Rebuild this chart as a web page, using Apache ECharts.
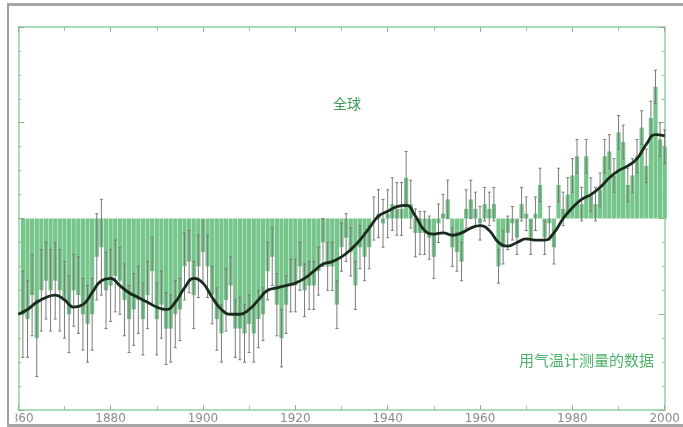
<!DOCTYPE html>
<html>
<head>
<meta charset="utf-8">
<script src="https://cdn.jsdelivr.net/npm/echarts@6/dist/echarts.min.js"></script>
<style>
html,body{margin:0;padding:0;background:#fff;}
#chart{width:683px;height:427px;}
</style>
</head>
<body>
<div id="chart"></div>
<script>
// ---- data ----
const startYear = 1861;
const anomalies = [
  -0.40,-0.42,-0.32,-0.50,-0.30,-0.26,-0.30,-0.26,-0.30,-0.34,
  -0.40,-0.30,-0.32,-0.40,-0.44,-0.40,-0.16,-0.12,-0.30,-0.28,
  -0.24,-0.26,-0.34,-0.42,-0.38,-0.34,-0.42,-0.32,-0.22,-0.42,
  -0.36,-0.46,-0.46,-0.40,-0.38,-0.20,-0.18,-0.32,-0.20,-0.14,
  -0.20,-0.32,-0.42,-0.48,-0.34,-0.28,-0.46,-0.46,-0.48,-0.44,
  -0.48,-0.42,-0.40,-0.22,-0.16,-0.36,-0.50,-0.36,-0.28,-0.28,
  -0.20,-0.30,-0.28,-0.28,-0.22,-0.10,-0.20,-0.20,-0.36,-0.12,
  -0.08,-0.14,-0.28,-0.12,-0.16,-0.12, 0.00, 0.02,-0.02, 0.02,
   0.06, 0.04, 0.04, 0.17, 0.06,-0.06,-0.06,-0.06,-0.08,-0.16,
  -0.02, 0.02, 0.08,-0.12,-0.14,-0.18, 0.04, 0.08, 0.04,-0.02,
   0.06, 0.04, 0.06,-0.20,-0.12,-0.06,-0.02,-0.08, 0.06, 0.02,
  -0.08, 0.02, 0.14,-0.08,-0.02,-0.12, 0.14, 0.04, 0.10, 0.18,
   0.26, 0.06, 0.26, 0.10, 0.06, 0.12, 0.26, 0.28, 0.18, 0.36,
   0.32, 0.14, 0.18, 0.26, 0.38, 0.22, 0.42, 0.55, 0.33, 0.30
];
const errors = [
  0.18,0.16,0.17,0.16,0.17,0.16,0.17,0.16,0.17,0.16,
  0.16,0.15,0.16,0.15,0.16,0.15,0.18,0.20,0.16,0.15,
  0.15,0.14,0.15,0.14,0.15,0.14,0.15,0.14,0.14,0.15,
  0.14,0.15,0.14,0.14,0.13,0.14,0.13,0.14,0.13,0.13,
  0.13,0.12,0.13,0.12,0.13,0.12,0.12,0.13,0.12,0.12,
  0.12,0.12,0.11,0.12,0.12,0.13,0.12,0.12,0.11,0.11,
  0.10,0.11,0.10,0.10,0.10,0.10,0.10,0.10,0.10,0.10,
  0.10,0.10,0.10,0.09,0.10,0.09,0.09,0.10,0.10,0.10,
  0.11,0.11,0.11,0.11,0.10,0.10,0.09,0.09,0.09,0.09,
  0.08,0.08,0.08,0.08,0.08,0.08,0.08,0.08,0.07,0.07,
  0.07,0.07,0.07,0.07,0.07,0.07,0.07,0.07,0.07,0.07,
  0.07,0.07,0.07,0.07,0.07,0.07,0.07,0.07,0.07,0.07,
  0.07,0.07,0.07,0.07,0.07,0.07,0.07,0.07,0.07,0.07,
  0.07,0.07,0.07,0.07,0.07,0.07,0.07,0.07,0.07,0.07
];
const smoothYears = [
  1860,1862,1864,1866,1868,1870,1872,1874,1876,1878,1880,1882,1884,1886,1888,1890,
  1892,1894,1896,1898,1900,1902,1904,1906,1908,1910,1912,1914,1916,1918,1920,1922,
  1924,1926,1928,1930,1932,1934,1936,1938,1940,1942,1944,1946,1948,1950,1952,1954,
  1956,1958,1960,1962,1964,1966,1968,1970,1972,1974,1976,1978,1980,1982,1984,1986,
  1988,1990,1992,1994,1996,1998,2000
];
const smoothValues = [
  -0.40,-0.38,-0.35,-0.33,-0.32,-0.34,-0.37,-0.36,-0.31,-0.26,-0.25,-0.28,-0.31,-0.33,-0.35,-0.37,
  -0.38,-0.35,-0.29,-0.25,-0.27,-0.33,-0.38,-0.40,-0.40,-0.38,-0.34,-0.30,-0.29,-0.28,-0.27,-0.25,
  -0.22,-0.19,-0.18,-0.16,-0.13,-0.09,-0.04, 0.01, 0.03, 0.05, 0.055, 0.01,-0.05,-0.065,-0.06,-0.07,
  -0.06,-0.04,-0.03,-0.05,-0.10,-0.115,-0.10,-0.085,-0.09,-0.09,-0.06, 0.00, 0.045, 0.08, 0.10, 0.13,
   0.17, 0.20, 0.22, 0.25, 0.31, 0.35, 0.345
];
const xTickStart = 1860, xTickEnd = 2000, xTickStep = 20;
const labelGlobal = '全球';
const labelSource = '用气温计测量的数据';

// ---- build ----
const barData = anomalies.map((v, i) => [startYear + i, v]);
const errData = anomalies.map((v, i) => [startYear + i, v - errors[i], v + errors[i]]);
const curveData = smoothYears.map((y, i) => [y, smoothValues[i]]);

const green = '#8fd39f';
const axisCommon = {
  type: 'value', min: xTickStart, max: xTickEnd, interval: xTickStep,
  axisLine: { show: true, onZero: false, lineStyle: { color: green, width: 1.5 } },
  axisTick: { show: true, inside: true, length: 5, lineStyle: { color: '#9aa89c', width: 1 } },
  minorTick: { show: true, splitNumber: 2, length: 4, lineStyle: { color: '#a8b8aa' } },
  splitLine: { show: false }
};
const yCommon = {
  type: 'value', min: -0.8, max: 0.8, interval: 0.4,
  axisLine: { show: true, onZero: false, lineStyle: { color: green, width: 1.5 } },
  axisTick: { show: true, inside: true, length: 6, lineStyle: { color: '#9aa89c' } },
  minorTick: { show: true, splitNumber: 4, length: 3, lineStyle: { color: '#a8b8aa' } },
  axisLabel: { show: false },
  splitLine: { show: false }
};

const chart = echarts.init(document.getElementById('chart'), null, { renderer: 'canvas' });
chart.setOption({
  animation: false,
  backgroundColor: '#ffffff',
  grid: { left: 12, right: 6, top: 27, bottom: 17 },
  xAxis: [
    Object.assign({}, axisCommon, {
      position: 'bottom',
      axisLabel: { show: true, margin: 3, color: '#8c8c8c', fontSize: 12, fontFamily: 'DejaVu Sans',
        showMinLabel: true, showMaxLabel: true, formatter: function (v) { return String(v); } }
    }),
    Object.assign({}, axisCommon, { position: 'top', axisLabel: { show: false } })
  ],
  yAxis: [
    Object.assign({}, yCommon, { position: 'left' }),
    Object.assign({}, yCommon, { position: 'right' })
  ],
  series: [
    {
      type: 'bar', xAxisIndex: 0, yAxisIndex: 0,
      data: barData, barWidth: 4.2,
      itemStyle: { color: '#76c58a' }
    },
    {
      type: 'custom', xAxisIndex: 0, yAxisIndex: 0,
      data: errData,
      renderItem: function (params, api) {
        const x = api.value(0);
        const p1 = api.coord([x, api.value(2)]);
        const p2 = api.coord([x, api.value(1)]);
        const st = { stroke: '#7a7a7a', lineWidth: 1 };
        return {
          type: 'group',
          children: [
            { type: 'line', shape: { x1: p1[0], y1: p1[1], x2: p2[0], y2: p2[1] }, style: st },
            { type: 'line', shape: { x1: p1[0] - 1.5, y1: p1[1], x2: p1[0] + 1.5, y2: p1[1] }, style: st },
            { type: 'line', shape: { x1: p2[0] - 1.5, y1: p2[1], x2: p2[0] + 1.5, y2: p2[1] }, style: st }
          ]
        };
      },
      z: 3
    },
    {
      type: 'line', xAxisIndex: 0, yAxisIndex: 0,
      data: curveData, smooth: 0.5, showSymbol: false,
      lineStyle: { color: '#1a2b1e', width: 2.8 },
      z: 5
    }
  ],
  graphic: [
    { type: 'text', left: 333, top: 97, z: 10,
      style: { text: labelGlobal, fill: '#3e9e5e', fontSize: 14, fontFamily: 'Noto Sans CJK SC' } },
    { type: 'text', left: 519, top: 353, z: 10,
      style: { text: labelSource, fill: '#4cb36a', fontSize: 15, fontFamily: 'Noto Sans CJK SC' } },
    { type: 'rect', z: 20, shape: { x: 0, y: 412, width: 15.5, height: 15 }, style: { fill: '#ffffff' } },
    { type: 'rect', z: 21, shape: { x: 7, y: 3, width: 676, height: 3 }, style: { fill: '#a6a6a6' } },
    { type: 'rect', z: 21, shape: { x: 7, y: 3, width: 2, height: 424 }, style: { fill: '#a0a0a0' } },
    { type: 'rect', z: 21, shape: { x: 7, y: 424, width: 676, height: 3 }, style: { fill: '#a6a6a6' } }
  ]
});
</script>
</body>
</html>
